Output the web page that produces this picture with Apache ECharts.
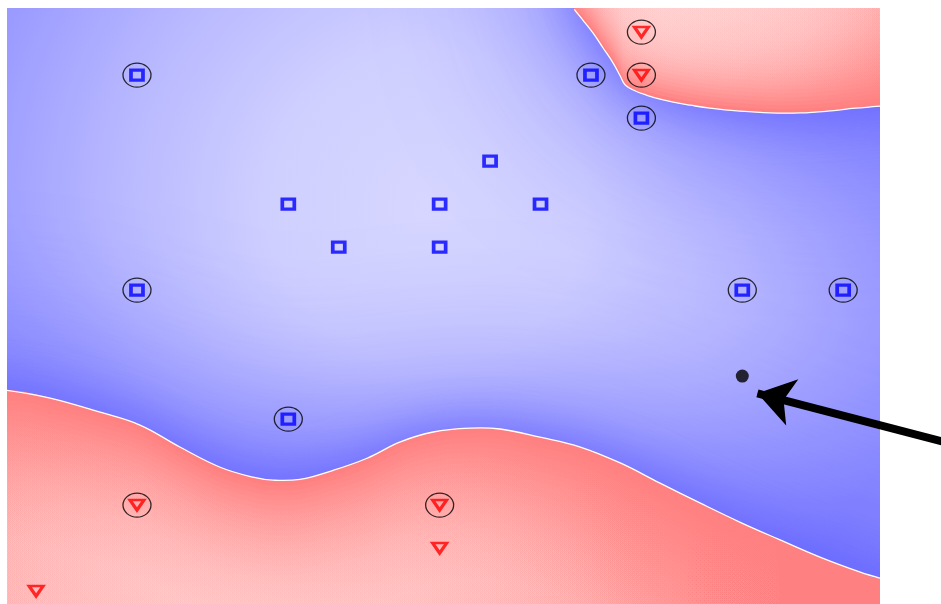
<!DOCTYPE html>
<html>
<head>
<meta charset="utf-8">
<script src="https://cdn.jsdelivr.net/npm/echarts@6/dist/echarts.min.js"></script>
<style>
  html, body { margin: 0; padding: 0; background: #fff; }
  #svmChart { width: 941px; height: 604px; }
</style>
</head>
<body>
<div id="svmChart"></div>
<script>
// training points in grid units; the circled ones are support vectors
const blueSupport = [[2, 12], [11, 12], [12, 11], [2, 7], [14, 7], [16, 7], [5, 4]]
const blueOther = [[9, 10], [5, 9], [8, 9], [10, 9], [6, 8], [8, 8]]
const redSupport = [[12, 13], [12, 12], [2, 2], [8, 2]]
const redOther = [[8, 1], [0, 0]]
const testPoint = [[14, 5]]

// decision boundary (white line)
const topBoundary = [
  [10.67, 13.53], [10.84, 13.28], [11.04, 12.98], [11.24, 12.63], [11.44, 12.28],
  [11.58, 11.98], [11.68, 11.77], [11.88, 11.63], [12.11, 11.53], [12.37, 11.44],
  [12.63, 11.37], [12.97, 11.30], [13.36, 11.23], [13.96, 11.16], [14.55, 11.12],
  [15.15, 11.12], [15.68, 11.16], [16.24, 11.23], [16.73, 11.28]
]
const bottomBoundary = [
  [-0.58, 4.67], [0.28, 4.49], [1.27, 4.16], [2.06, 3.86], [2.85, 3.35],
  [3.65, 2.88], [4.30, 2.65], [4.70, 2.58], [5.23, 2.60], [5.89, 2.81],
  [6.56, 3.09], [7.22, 3.47], [7.87, 3.70], [8.60, 3.79], [9.20, 3.77],
  [9.99, 3.58], [10.79, 3.35], [11.58, 2.98], [12.37, 2.51], [13.16, 2.05],
  [13.96, 1.60], [14.75, 1.19], [15.54, 0.79], [16.34, 0.44], [16.73, 0.30]
]

// arrow pointing at the test point
const arrowFrom = [18.32, 3.37]
const arrowTo = [14.30, 4.60]

const chart = echarts.init(document.getElementById('svmChart'))
const SMOOTH = 0.4

function radial (c, r, stops) {
  return new echarts.graphic.RadialGradient(c[0], c[1], r, stops.map(s => ({ offset: s[0], color: s[1] })), true)
}

function renderField (params, api) {
  const cs = params.coordSys
  const top = topBoundary.map(p => api.coord(p))
  const bot = bottomBoundary.map(p => api.coord(p))
  const far = 900
  const t0 = top[0], t1 = top[top.length - 1]
  const topPoly = top.concat([[t1[0] + far, t1[1]], [t1[0] + far, t0[1] - far], [t0[0], t0[1] - far]])
  const b0 = bot[0], b1 = bot[bot.length - 1]
  const botPoly = bot.concat([[b1[0] + far, b1[1]], [b1[0] + far, b1[1] + far], [b0[0] - far, b1[1] + far], [b0[0] - far, b0[1]]])

  const children = []
  // blue side: pale in the middle, darker to the edges
  children.push({
    type: 'rect',
    shape: { x: cs.x, y: cs.y, width: cs.width, height: cs.height },
    style: {
      fill: radial(api.coord([7.8, 8.9]), 520, [
        [0, '#d6d6ff'], [0.3, '#d0d0ff'], [0.6, '#b8b8ff'], [0.85, '#9e9eff'], [1, '#9090ff']
      ])
    }
  })
  // red regions, their shadow darkens the blue next to the boundary
  const passes = [[200, 'rgba(80,80,255,0.95)'], [50, 'rgba(100,100,255,0.8)']]
  passes.forEach(function (ps) {
    [topPoly, botPoly].forEach(function (pts) {
      children.push({
        type: 'polygon',
        shape: { points: pts, smooth: SMOOTH },
        style: { fill: '#ff8080', shadowBlur: ps[0], shadowColor: ps[1] }
      })
    })
  })
  // lighten the red away from the boundary
  const botFill = radial(api.coord([4.5, -0.5]), 560, [
    [0, 'rgba(255,212,212,0.07)'], [0.4, 'rgba(255,212,212,0.045)'],
    [0.7, 'rgba(255,212,212,0.015)'], [1, 'rgba(255,212,212,0)']
  ])
  const topFill = radial(api.coord([12.5, 13.3]), 330, [
    [0, 'rgba(255,212,212,0.13)'], [0.4, 'rgba(255,212,212,0.075)'],
    [0.75, 'rgba(255,212,212,0.02)'], [1, 'rgba(255,212,212,0)']
  ])
  for (let k = 1; k <= 30; k++) {
    children.push({
      type: 'polygon',
      shape: { points: botPoly.map(p => [p[0], p[1] + 5 * k]), smooth: SMOOTH },
      style: { fill: botFill }
    })
    children.push({
      type: 'polygon',
      shape: { points: topPoly.map(p => [p[0], p[1] - 4 * k]), smooth: SMOOTH },
      style: { fill: topFill }
    })
  }
  ;[top, bot].forEach(function (pts) {
    children.push({
      type: 'polyline',
      shape: { points: pts, smooth: SMOOTH },
      style: { stroke: '#ffffff', lineWidth: 1.3, fill: null }
    })
  })
  return { type: 'group', children: children }
}

const ring = 'path://M0,50 A50,50 0 1,1 100,50 A50,50 0 1,1 0,50 Z'
const squareStyle = { color: 'rgba(0,0,0,0)', borderColor: '#0000ff', borderWidth: 3.4 }
const triangleStyle = { color: 'rgba(0,0,0,0)', borderColor: '#ff0000', borderWidth: 3 }

const option = {
  animation: false,
  backgroundColor: '#ffffff',
  grid: { left: 7, top: 8, right: 61, bottom: 0 },
  xAxis: { type: 'value', min: -0.577, max: 16.73, show: false },
  yAxis: { type: 'value', min: -0.3, max: 13.56, show: false },
  series: [
    {
      type: 'custom',
      coordinateSystem: 'cartesian2d',
      renderItem: renderField,
      data: [[0, 0]],
      clip: true,
      silent: true,
      z: 0
    },
    {
      type: 'scatter',
      data: blueSupport.concat(redSupport),
      symbol: ring,
      symbolSize: [28, 24],
      itemStyle: { color: 'rgba(0,0,0,0)', borderColor: '#000000', borderWidth: 1.2 },
      silent: true,
      z: 2
    },
    {
      type: 'scatter',
      data: blueSupport.concat(blueOther),
      symbol: 'rect',
      symbolSize: [12, 10],
      itemStyle: squareStyle,
      silent: true,
      z: 3
    },
    {
      type: 'scatter',
      data: redSupport.concat(redOther),
      symbol: 'triangle',
      symbolRotate: 180,
      symbolSize: [14, 10],
      itemStyle: triangleStyle,
      silent: true,
      z: 3
    },
    {
      type: 'scatter',
      data: testPoint,
      symbol: 'circle',
      symbolSize: 13,
      itemStyle: { color: '#000000' },
      silent: true,
      z: 3
    },
    {
      type: 'lines',
      coordinateSystem: 'cartesian2d',
      clip: false,
      data: [{ coords: [arrowFrom, arrowTo] }],
      symbol: ['none', 'arrow'],
      symbolSize: 36,
      lineStyle: { color: '#000000', width: 8, opacity: 1, curveness: 0 },
      silent: true,
      z: 4
    }
  ]
}

chart.setOption(option)
</script>
</body>
</html>
